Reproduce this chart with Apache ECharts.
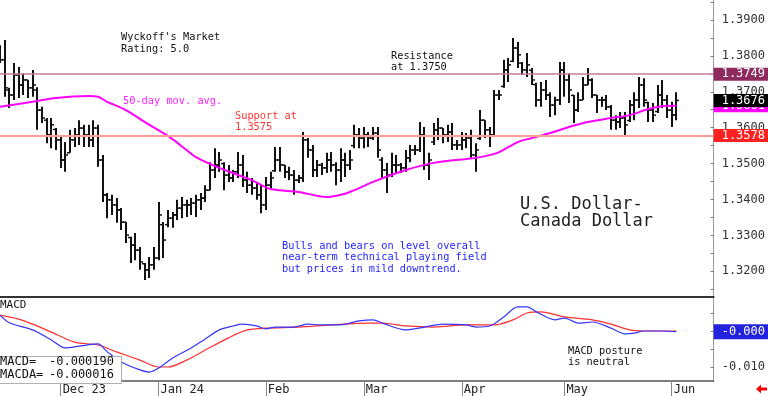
<!DOCTYPE html>
<html>
<head>
<meta charset="utf-8">
<script src="https://cdn.jsdelivr.net/npm/echarts@6/dist/echarts.min.js"></script>
<style>
html,body{margin:0;padding:0;background:#fff;}
#chart{width:768px;height:396px;}
</style>
</head>
<body>
<div id="chart"></div>
<script>
// ---------- DATA ----------
// Daily OHLC, one entry per weekday starting 2023-11-14 (last bar 2024-06-04)
const opens = [
1.3825,1.3789,1.3705,1.3691,1.3747,1.3719,1.3733,1.3711,1.3705,1.3649,
1.3621,1.3580,1.3595,1.3566,1.3510,1.3530,1.3566,1.3577,1.3599,1.3580,
1.3566,1.3599,1.3510,1.3413,1.3399,1.3385,1.3371,1.3337,1.3294,1.3273,
1.3259,1.3221,1.3204,1.3218,1.3237,1.3330,1.3330,1.3348,1.3357,1.3376,
1.3385,1.3385,1.3390,1.3399,1.3404,1.3426,1.3482,1.3496,1.3500,1.3468,
1.3460,1.3477,1.3496,1.3454,1.3440,1.3432,1.3413,1.3385,1.3440,1.3480,
1.3510,1.3496,1.3477,1.3468,1.3454,1.3460,1.3566,1.3538,1.3482,1.3496,
1.3488,1.3510,1.3496,1.3482,1.3510,1.3496,1.3550,1.3580,1.3571,1.3580,
1.3571,1.3585,1.3510,1.3482,1.3468,1.3496,1.3496,1.3488,1.3516,1.3538,
1.3538,1.3580,1.3496,1.3560,1.3594,1.3599,1.3580,1.3588,1.3552,1.3552,
1.3566,1.3571,1.3524,1.3570,1.3621,1.3594,1.3580,1.3691,1.3715,1.3761,
1.3785,1.3822,1.3780,1.3761,1.3760,1.3720,1.3677,1.3705,1.3691,1.3663,
1.3677,1.3761,1.3733,1.3690,1.3649,1.3677,1.3719,1.3733,1.3691,1.3677,
1.3677,1.3658,1.3621,1.3616,1.3627,1.3620,1.3663,1.3677,1.3719,1.3670,
1.3649,1.3645,1.3691,1.3677,1.3649,1.3635
];
const highs = [
1.3830,1.3844,1.3711,1.3780,1.3769,1.3752,1.3733,1.3761,1.3713,1.3658,
1.3627,1.3627,1.3599,1.3574,1.3560,1.3594,1.3599,1.3621,1.3608,1.3608,
1.3621,1.3608,1.3524,1.3418,1.3413,1.3404,1.3376,1.3337,1.3296,1.3307,
1.3268,1.3223,1.3240,1.3268,1.3393,1.3337,1.3371,1.3365,1.3399,1.3407,
1.3399,1.3404,1.3413,1.3418,1.3440,1.3504,1.3543,1.3532,1.3504,1.3496,
1.3482,1.3532,1.3524,1.3477,1.3460,1.3446,1.3440,1.3463,1.3477,1.3546,
1.3546,1.3496,1.3491,1.3482,1.3468,1.3588,1.3571,1.3552,1.3510,1.3502,
1.3530,1.3532,1.3504,1.3543,1.3530,1.3538,1.3608,1.3599,1.3602,1.3588,
1.3602,1.3602,1.3518,1.3502,1.3530,1.3524,1.3502,1.3538,1.3552,1.3552,
1.3616,1.3602,1.3530,1.3613,1.3627,1.3599,1.3608,1.3613,1.3566,1.3588,
1.3585,1.3594,1.3557,1.3649,1.3621,1.3602,1.3705,1.3705,1.3789,1.3794,
1.3850,1.3839,1.3783,1.3808,1.3766,1.3725,1.3727,1.3733,1.3699,1.3686,
1.3783,1.3783,1.3752,1.3691,1.3699,1.3741,1.3766,1.3738,1.3691,1.3686,
1.3691,1.3663,1.3635,1.3644,1.3644,1.3677,1.3699,1.3741,1.3738,1.3672,
1.3669,1.3719,1.3733,1.3691,1.3672,1.3699
];
const lows = [
1.3780,1.3686,1.3655,1.3677,1.3683,1.3691,1.3683,1.3686,1.3594,1.3613,
1.3557,1.3543,1.3538,1.3488,1.3477,1.3530,1.3546,1.3552,1.3546,1.3546,
1.3546,1.3491,1.3393,1.3348,1.3357,1.3335,1.3315,1.3279,1.3223,1.3231,
1.3204,1.3176,1.3181,1.3204,1.3231,1.3237,1.3323,1.3321,1.3343,1.3348,
1.3351,1.3357,1.3351,1.3371,1.3393,1.3426,1.3460,1.3477,1.3426,1.3449,
1.3449,1.3460,1.3435,1.3418,1.3413,1.3399,1.3362,1.3371,1.3432,1.3477,
1.3477,1.3460,1.3454,1.3413,1.3446,1.3449,1.3516,1.3463,1.3463,1.3468,
1.3474,1.3477,1.3440,1.3449,1.3463,1.3482,1.3543,1.3543,1.3543,1.3546,
1.3566,1.3516,1.3460,1.3418,1.3463,1.3474,1.3474,1.3477,1.3504,1.3524,
1.3532,1.3482,1.3454,1.3552,1.3566,1.3557,1.3560,1.3538,1.3538,1.3538,
1.3543,1.3516,1.3477,1.3566,1.3571,1.3546,1.3574,1.3677,1.3711,1.3727,
1.3783,1.3766,1.3747,1.3741,1.3719,1.3658,1.3658,1.3677,1.3630,1.3635,
1.3663,1.3686,1.3669,1.3613,1.3644,1.3677,1.3719,1.3683,1.3641,1.3658,
1.3649,1.3594,1.3594,1.3599,1.3580,1.3616,1.3621,1.3655,1.3658,1.3616,
1.3616,1.3641,1.3655,1.3627,1.3602,1.3621
];
const closes = [
1.3789,1.3711,1.3691,1.3747,1.3719,1.3733,1.3711,1.3719,1.3649,1.3627,
1.3580,1.3608,1.3566,1.3510,1.3524,1.3566,1.3580,1.3599,1.3580,1.3566,
1.3599,1.3510,1.3413,1.3399,1.3385,1.3371,1.3337,1.3301,1.3273,1.3259,
1.3226,1.3204,1.3218,1.3237,1.3357,1.3287,1.3348,1.3357,1.3376,1.3385,
1.3385,1.3390,1.3399,1.3404,1.3426,1.3482,1.3496,1.3510,1.3468,1.3460,
1.3477,1.3496,1.3454,1.3440,1.3432,1.3413,1.3385,1.3440,1.3460,1.3510,
1.3496,1.3477,1.3468,1.3454,1.3460,1.3566,1.3538,1.3482,1.3496,1.3488,
1.3510,1.3496,1.3482,1.3510,1.3496,1.3510,1.3580,1.3571,1.3580,1.3571,
1.3585,1.3538,1.3482,1.3468,1.3496,1.3496,1.3488,1.3516,1.3538,1.3538,
1.3580,1.3496,1.3510,1.3594,1.3599,1.3580,1.3588,1.3552,1.3552,1.3566,
1.3571,1.3524,1.3538,1.3621,1.3594,1.3580,1.3691,1.3691,1.3761,1.3775,
1.3822,1.3803,1.3761,1.3775,1.3733,1.3677,1.3705,1.3691,1.3663,1.3677,
1.3761,1.3733,1.3705,1.3649,1.3677,1.3719,1.3733,1.3691,1.3677,1.3677,
1.3658,1.3621,1.3616,1.3627,1.3608,1.3663,1.3677,1.3719,1.3677,1.3649,
1.3635,1.3691,1.3677,1.3649,1.3635,1.3676
];

// 50-day moving average, read at these category positions
const maIdx  = [0,7,12,19,21,23,27,31,36,40,42,47,54,58,64,70,73,75,80,87,93,100,103,107,111,114,118,122,126,131,135,139,142,145];
const maVals = [1.3658,1.3672,1.3683,1.3688,1.3686,1.3672,1.3649,1.3616,1.3577,1.3538,1.3518,1.3488,1.3454,1.3429,1.3421,1.3407,1.3413,1.3421,1.3449,1.3482,1.3502,1.3513,1.3518,1.3532,1.3560,1.3571,1.3585,1.3602,1.3616,1.3627,1.3635,1.3652,1.3660,1.3661];

// MACD (blue) and MACD average (red)
const macdIdx  = [0,2,7,11,14,17,21,23,26,30,32,34,37,41,44,47,50,52,55,57,59,63,66,69,73,77,80,82,87,91,95,100,102,105,108,111,113,115,119,121,124,127,131,134,136,138,142,145];
const macdVals = [0.0044,0.0023,0.0003,-0.0025,-0.0047,-0.0042,-0.0036,-0.0058,-0.0086,-0.0108,-0.0114,-0.0103,-0.0075,-0.0047,-0.0022,0.0003,0.0014,0.0019,0.0014,0.0006,0.0011,0.0011,0.0019,0.0017,0.0017,0.0028,0.0031,0.0022,0.0003,0.0011,0.0019,0.0017,0.0011,0.0014,0.0039,0.0067,0.0067,0.0053,0.0031,0.0036,0.0022,0.0025,0.0008,-0.0008,-0.0006,0.0000,0.0000,-0.00019];
const sigIdx  = [0,4,7,11,16,21,25,30,34,36,40,44,49,53,57,64,71,79,82,87,93,100,106,110,113,116,121,127,131,135,138,142,145];
const sigVals = [0.0044,0.0033,0.0019,-0.0003,-0.0031,-0.0039,-0.0058,-0.0081,-0.0100,-0.0100,-0.0081,-0.0053,-0.0019,0.0003,0.0008,0.0011,0.0017,0.0022,0.0022,0.0014,0.0011,0.0017,0.0017,0.0031,0.0050,0.0053,0.0039,0.0031,0.0019,0.0003,0.0000,0.0000,-0.000016];

// Price levels shown on the right axis
const resistance = 1.3749;
const support = 1.3578;
const maLast = 1.3661;
const lastPrice = 1.3676;
const macdLast = -0.00019;

// Axis ticks / labels
const priceTicks = [1.32,1.33,1.34,1.35,1.36,1.37,1.38,1.39];
const priceMinorTicks = [1.315,1.32,1.325,1.33,1.335,1.34,1.345,1.35,1.355,1.36,1.365,1.37,1.375,1.38,1.385,1.39,1.395];
const macdTicks = [-0.010];
const macdMinorTicks = [-0.010,-0.005,0,0.005];
const tickDates  = ['2023-12-01','2024-01-01','2024-02-01','2024-03-01','2024-04-01','2024-05-01','2024-06-03'];
const tickLabels = ['Dec 23','Jan 24','Feb','Mar','Apr','May','Jun'];

// Categories: weekdays from 2023-11-14 (with blank space after the last bar)
const categories = [];
(function(){
  const d = new Date(Date.UTC(2023,10,14));
  while (categories.length < 154) {
    const wd = d.getUTCDay();
    if (wd !== 0 && wd !== 6) categories.push(d.toISOString().slice(0,10));
    d.setUTCDate(d.getUTCDate()+1);
  }
})();

// ---------- CHART ----------
const MONO = 'DejaVu Sans Mono';
const chart = echarts.init(document.getElementById('chart'), null, {renderer:'canvas'});

const ohlc = opens.map((o,i)=>[i,o,highs[i],lows[i],closes[i]]);
const pairs = (a,b)=>a.map((x,k)=>[x,b[k]]);

function renderBar(params, api){
  const i = api.value(0);
  const o = api.coord([i, api.value(1)]);
  const h = api.coord([i, api.value(2)]);
  const l = api.coord([i, api.value(3)]);
  const c = api.coord([i, api.value(4)]);
  const x = Math.round(h[0]);
  return {type:'group', children:[
    {type:'line', shape:{x1:x,y1:h[1],x2:x,y2:l[1]}, style:{stroke:'#111',lineWidth:2}},
    {type:'line', shape:{x1:x-3,y1:o[1],x2:x,y2:o[1]}, style:{stroke:'#111',lineWidth:1.5}},
    {type:'line', shape:{x1:x,y1:c[1],x2:x+3,y2:c[1]}, style:{stroke:'#111',lineWidth:1.5}}
  ]};
}

const lvlLabel = (bg)=>({show:true, position:'end', distance:0, color:'#fff', backgroundColor:bg,
  fontFamily:MONO, fontSize:12, lineHeight:12, padding:[1,4,0,8], formatter:(p)=>Number(p.value).toFixed(4)});
const HIDDEN_LINE = {color:'rgba(0,0,0,0)', width:1, type:'solid'};

const option = {
  animation:false,
  backgroundColor:'#fff',
  grid:[
    {left:0, right:54, top:0, height:297},
    {left:0, right:54, top:297, height:84}
  ],
  xAxis:[
    {type:'category', gridIndex:0, data:categories, boundaryGap:false,
     axisLine:{show:true, onZero:false, lineStyle:{color:'#333', width:2}}, axisTick:{show:false}, axisLabel:{show:false}, splitLine:{show:false}},
    {type:'category', gridIndex:1, data:categories, boundaryGap:false,
     axisLine:{show:true, onZero:false, lineStyle:{color:'#555', width:1.5}},
     axisTick:{show:true, length:15, interval:(i,v)=>tickDates.indexOf(v)>=0, lineStyle:{color:'#888'}},
     axisLabel:{show:true, interval:(i,v)=>tickDates.indexOf(v)>=0, formatter:(v)=>tickLabels[tickDates.indexOf(v)] || '',
       align:'left', margin:3, padding:[0,0,0,2], color:'#222', fontFamily:MONO, fontSize:12},
     splitLine:{show:false}}
  ],
  yAxis:[
    {type:'value', gridIndex:0, position:'right', min:1.31284, max:1.39557, scale:true,
     splitLine:{show:false},
     axisLine:{show:true, lineStyle:{color:'#999'}},
     axisTick:{show:true, inside:true, length:3, customValues:priceMinorTicks, lineStyle:{color:'#777'}},
     axisLabel:{show:true, customValues:priceTicks, formatter:(v)=>v.toFixed(4), color:'#333', fontFamily:MONO, fontSize:12, margin:8}},
    {type:'value', gridIndex:1, position:'right', min:-0.013889, max:0.009444, scale:true,
     splitLine:{show:false},
     axisLine:{show:true, lineStyle:{color:'#999'}},
     axisTick:{show:true, inside:true, length:3, customValues:macdMinorTicks, lineStyle:{color:'#777'}},
     axisLabel:{show:true, customValues:macdTicks, formatter:(v)=>v.toFixed(3), color:'#333', fontFamily:MONO, fontSize:12, margin:8}}
  ],
  series:[
    {type:'custom', name:'USDCAD', xAxisIndex:0, yAxisIndex:0, data:ohlc, renderItem:renderBar,
     encode:{x:0, y:[1,2,3,4]}, clip:true, silent:true, z:2},
    {type:'line', name:'MA50', xAxisIndex:0, yAxisIndex:0, data:pairs(maIdx,maVals), smooth:0.3,
     symbol:'none', showSymbol:false, clip:false, silent:true, z:4,
     lineStyle:{color:'#ff00ff', width:2},
     markLine:{silent:true, symbol:['none','none'], animation:false, precision:4, z:5,
       data:[
         {yAxis:resistance, lineStyle:{color:'#c47a9e', width:1.5, type:'solid'}, label:lvlLabel('#8e2a5e')},
         {yAxis:support, lineStyle:{color:'#ff9c9c', width:2, type:'solid'}, label:lvlLabel('#ff2020')},
         {yAxis:maLast, lineStyle:HIDDEN_LINE, label:lvlLabel('#ff00ff')},
         {yAxis:lastPrice, lineStyle:HIDDEN_LINE, label:lvlLabel('#000000')}
       ]}},
    {type:'line', name:'MACDA', xAxisIndex:1, yAxisIndex:1, data:pairs(sigIdx,sigVals), smooth:0.3,
     symbol:'none', showSymbol:false, silent:true, z:3, lineStyle:{color:'#ff3030', width:1.2}},
    {type:'line', name:'MACD', xAxisIndex:1, yAxisIndex:1, data:pairs(macdIdx,macdVals), smooth:0.3,
     symbol:'none', showSymbol:false, clip:false, silent:true, z:4, lineStyle:{color:'#3535ff', width:1.2},
     markLine:{silent:true, symbol:['none','none'], animation:false, precision:6,
       data:[{yAxis:macdLast, lineStyle:HIDDEN_LINE,
         label:{show:true, position:'end', distance:0, color:'#fff', backgroundColor:'#2323dd',
           fontFamily:MONO, fontSize:12, lineHeight:12, padding:[2,4,1,8], formatter:(p)=>Number(p.value).toFixed(3)}}]}}
  ],
  graphic:[
    {type:'text', left:121, top:31.5, z:10, style:{text:"Wyckoff's Market\nRating: 5.0", font:'10.3px "DejaVu Sans Mono"', lineHeight:12, fill:'#111'}},
    {type:'text', left:123, top:95, z:10, style:{text:'50-day mov. avg.', font:'10.3px "DejaVu Sans Mono"', lineHeight:12, fill:'#ff22ff'}},
    {type:'text', left:235, top:110.5, z:10, style:{text:'Support at\n1.3575', font:'10.3px "DejaVu Sans Mono"', lineHeight:11, fill:'#ff3333'}},
    {type:'text', left:391, top:51.5, z:10, style:{text:'Resistance\nat 1.3750', font:'10.3px "DejaVu Sans Mono"', lineHeight:10.5, fill:'#111'}},
    {type:'text', left:520, top:196.5, z:10, style:{text:'U.S. Dollar-\nCanada Dollar', font:'17px "DejaVu Sans Mono"', lineHeight:17, fill:'#222'}},
    {type:'text', left:282, top:240.3, z:10, style:{text:'Bulls and bears on level overall\nnear-term technical playing field\nbut prices in mild downtrend.', font:'10.3px "DejaVu Sans Mono"', lineHeight:11.5, fill:'#1f1fff'}},
    {type:'text', left:0, top:299.5, z:10, style:{text:'MACD', font:'11px "DejaVu Sans Mono"', lineHeight:12, fill:'#111'}},
    {type:'text', left:568, top:346.2, z:10, style:{text:'MACD posture\nis neutral', font:'10.3px "DejaVu Sans Mono"', lineHeight:10.5, fill:'#111'}},
    {type:'rect', left:-1, top:356, z:10, shape:{width:122, height:27}, style:{fill:'#fff', stroke:'#b0b0b0', lineWidth:1}},
    {type:'text', left:0, top:356, z:11, style:{text:'MACD=\nMACDA=', font:'12px "DejaVu Sans Mono"', lineHeight:12.5, fill:'#111'}},
    {type:'text', left:49, top:356, z:11, style:{text:macdLast.toFixed(6)+'\n'+sigVals[sigVals.length-1].toFixed(6), font:'12px "DejaVu Sans Mono"', lineHeight:12.5, fill:'#111'}},
    {type:'polygon', z:10, shape:{points:[[756,389],[761,384.5],[761,387.5],[767,387.5],[767,390.5],[761,390.5],[761,393.5]]}, style:{fill:'#ff0000'}}
  ]
};
chart.setOption(option);
</script>
</body>
</html>
